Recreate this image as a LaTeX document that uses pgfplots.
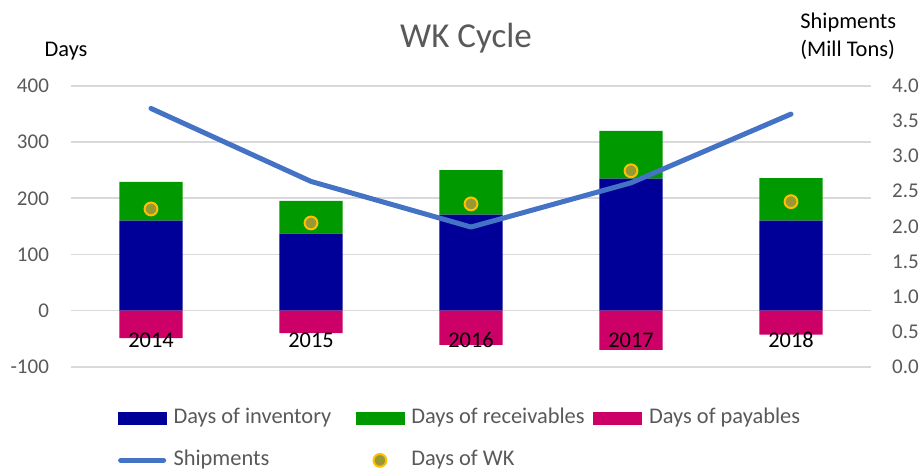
\documentclass[border=0pt]{standalone}
\usepackage{pgfplots}
\pgfplotsset{compat=1.18}
\usepackage{fontspec}
\setmainfont{Carlito}
\definecolor{inv}{RGB}{0,0,153}
\definecolor{rec}{RGB}{0,153,0}
\definecolor{pay}{RGB}{204,0,102}
\definecolor{ship}{RGB}{68,114,196}
\definecolor{wkfill}{RGB}{153,153,51}
\definecolor{wkedge}{RGB}{255,192,0}
\definecolor{txtgray}{RGB}{89,89,89}
\definecolor{gridgray}{RGB}{217,217,217}
\newcommand{\fs}{\fontsize{10.5}{12.6}\selectfont}
\newcommand{\fl}{\fontsize{11.2}{13.4}\selectfont}
\pgfplotsset{
  base/.style={
    scale only axis, width=400pt, height=140.35pt,
    at={(35.5pt,53.65pt)}, anchor=south west,
    xmin=-0.5, xmax=4.5,
    axis line style={draw=none},
    major tick length=0pt,
    /pgf/number format/assume math mode=true,
    tick label style={font=\fs},
  },
  leftscale/.style={ymin=-100, ymax=400},
}
\begin{document}
\begin{tikzpicture}
\path[use as bounding box] (0pt,0pt) rectangle (462pt,237pt);

% Axis A: grid, left ticks, stacked positive bars
\begin{axis}[base, leftscale,
  ytick={-100,0,100,200,300,400},
  ymajorgrids, grid style={draw=gridgray, line width=0.9pt},
  yticklabel style={text=txtgray, anchor=east, inner sep=0pt, xshift=-10.85pt},
  xtick=\empty,
  ybar stacked, bar width=0.394]
\addplot[fill=inv, draw=none] coordinates {(0,160) (1,137) (2,171) (3,235) (4,160)};
\addplot[fill=rec, draw=none] coordinates {(0,69) (1,58.5) (2,79) (3,85) (4,76)};
\end{axis}

% Axis B: payables and year labels (labels on top)
\begin{axis}[base, leftscale, axis on top,
  ytick=\empty,
  xtick={0,1,2,3,4}, xticklabels={2014,2015,2016,2017,2018},
  xticklabel style={font=\fl, text=black, anchor=base, inner sep=0pt, yshift=9.7pt},
  ybar, bar width=0.394, bar shift=0pt]
\addplot[fill=pay, draw=none] coordinates {(0,-49) (1,-40) (2,-61) (3,-70) (4,-43)};
\end{axis}

% Axis C: shipments on right scale
\begin{axis}[base, ymin=0, ymax=4,
  ytick={0,0.5,1,1.5,2,2.5,3,3.5,4},
  yticklabel pos=right,
  yticklabel style={text=txtgray, anchor=west, inner sep=0pt, xshift=10.35pt,
    /pgf/number format/.cd, fixed, fixed zerofill, precision=1},
  xtick=\empty]
\addplot[ship, line width=2.5pt, line cap=round, line join=round] coordinates {(0,3.68) (1,2.64) (2,1.99) (3,2.62) (4,3.60)};
\end{axis}

% Axis D: Days of WK markers and legend
\begin{axis}[base, leftscale, hide axis,
  legend columns=3,
  legend style={draw=none, fill=none, font=\fl, text=txtgray,
    at={(0.0579,-0.1435)}, anchor=north west,
    inner sep=0pt, column sep=0pt, row sep=10pt,
    nodes={inner sep=0pt, text height=8pt, text depth=3pt}},
  legend cell align=left]
\addlegendimage{legend image code/.code={\fill[inv] (0pt,-3.2pt) rectangle (24pt,3.2pt);}}
\addlegendentry{\makebox[94.5pt][l]{\hspace{3.5pt}Days of inventory}}
\addlegendimage{legend image code/.code={\fill[rec] (0pt,-3.2pt) rectangle (24pt,3.2pt);}}
\addlegendentry{\makebox[94.5pt][l]{\hspace{3.5pt}Days of receivables}}
\addlegendimage{legend image code/.code={\fill[pay] (0pt,-3.2pt) rectangle (24pt,3.2pt);}}
\addlegendentry{\makebox[94.5pt][l]{\hspace{3.5pt}Days of payables}}
\addlegendimage{legend image code/.code={\draw[ship, line width=2.5pt, line cap=round] (1.25pt,0pt) -- (22.75pt,0pt);}}
\addlegendentry{\makebox[94.5pt][l]{\hspace{3.5pt}Shipments}}
\addplot[only marks, mark=*, mark size=3.2pt,
  mark options={fill=wkfill, draw=wkedge, line width=1pt},
  legend image code/.code={\path[draw=none, fill=none] (0pt,-3.2pt) rectangle (24pt,3.2pt);
    \draw[mark=*, mark size=3.2pt, mark options={fill=wkfill, draw=wkedge, line width=1pt}] plot coordinates {(12pt,0pt)};}]
  coordinates {(0,181) (1,156) (2,190) (3,249) (4,194)};
\addlegendentry{\makebox[94.5pt][l]{\hspace{3.5pt}Days of WK}}
\end{axis}

% Titles
\node[anchor=base, font=\fontsize{17.5}{21}\selectfont, text=txtgray, inner sep=0pt] at (233pt,213.35pt) {WK Cycle};
\node[anchor=base west, font=\fl, inner sep=0pt] at (22.15pt,208.65pt) {Days};
\node[anchor=base west, font=\fl, inner sep=0pt] at (400pt,222.85pt) {Shipments};
\node[anchor=base west, font=\fl, inner sep=0pt] at (400pt,208.65pt) {(Mill Tons)};
\end{tikzpicture}
\end{document}
